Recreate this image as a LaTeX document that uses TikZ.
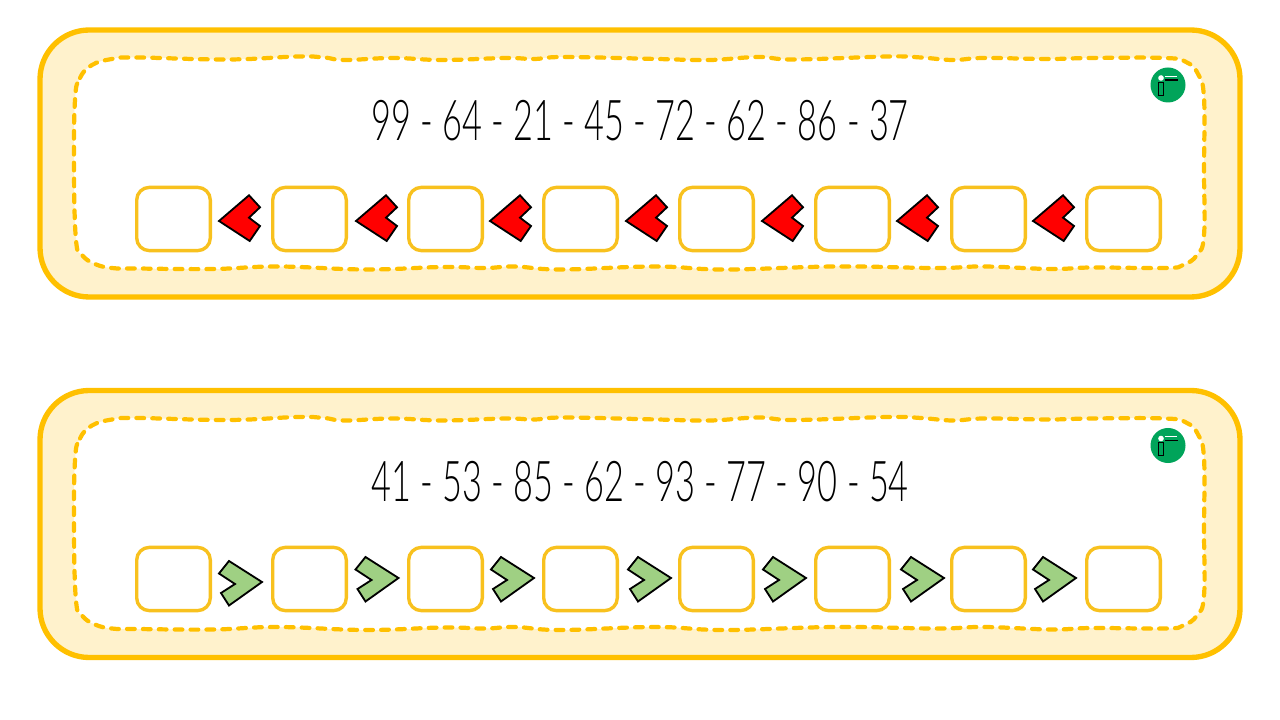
\documentclass[tikz,border=0pt]{standalone}
\usepackage{fontspec}
\setmainfont{Lato Light}[FakeStretch=0.61]
\definecolor{panelline}{HTML}{FFC000}
\definecolor{panelfill}{HTML}{FFF2CC}
\definecolor{boxline}{HTML}{F8C11E}
\definecolor{logogreen}{HTML}{00A45A}
\definecolor{leafgreen}{HTML}{9FD083}
\tikzset{
  panel/.style={draw=panelline, fill=panelfill, line width=3.8pt, rounded corners=35pt},
  seam/.style={draw=panelline, fill=white, line width=3pt, line cap=round,
    dash pattern=on 5.5pt off 5.8pt},
  answerbox/.style={draw=boxline, line width=2.4pt, rounded corners=9pt, fill=white,
    minimum width=1.84cm, minimum height=1.58cm, inner sep=0pt},
  numbers/.style={anchor=base, inner sep=0pt, font=\fontsize{40}{40}\selectfont},
  chevron/.style={draw=black, line width=1.3pt, line join=miter},
}
\begin{document}
\begin{tikzpicture}[x=0.025cm, y=-0.025cm]
    \useasboundingbox (0, 0) rectangle (1280, 720);

    \foreach \r/\dy/\digits in {top/0/{99 - 64 - 21 - 45 - 72 - 62 - 86 - 37}, bot/360.5/{41 - 53 - 85 - 62 - 93 - 77 - 90 - 54}} {
      \begin{scope}[shift={(0, \dy)}]
        % Panel
        \path [panel] (40, 30) rectangle (1240, 297);
        \path [seam] plot [smooth cycle, tension=0.7] coordinates {
          (75,100) (80,78) (92,65) (112,59) (136,57.5) (228,59.5) (297,56.5) (324,57.5)
          (345,60) (393,58) (443,60) (506,58) (534,59) (565,57) (657,59) (710,60)
          (758,57) (795,59.5) (888,56.5) (921,57.5) (953,60) (984,58) (1047,59)
          (1092,58) (1165,58) (1186,62) (1198,74) (1204,98) (1204,170) (1204,235)
          (1197,255) (1183,265) (1165,268) (1092,267.5) (1051,269) (984,266.5)
          (936,268) (836,266.5) (725,269.5) (655,266.5) (561,269.5)
          (515,266.5) (485,268) (443,267) (366,269.5) (278,266.5) (213,269)
          (136,268.5) (112,268) (95,264) (82,255) (76,240) (74,170)
        };

        % Numbers
        \node [numbers] (num\r) at (640, 141) {\digits};

        % Logo
        \node [circle, fill=logogreen, minimum size=0.875cm, inner sep=0pt] (logo\r) at (1168, 85) {};
        \node [circle, fill=white, minimum size=0.14cm, inner sep=0pt] (head\r) at (1161, 78) {};
        \node [draw=black, line width=0.5pt, minimum width=0.11cm, minimum height=0.33cm, inner sep=0pt] (pen\r) at (1161, 88.5) {};
        \draw [white, line width=0.3pt] (1165, 76) -- (1177, 76);
        \draw [black, line width=1pt] (1165, 80) -- (1178, 80);
      \end{scope}
    }

    % Answer boxes
    \foreach \r/\dy in {top/0, bot/360} {
      \foreach \i/\x in {0/173.5, 1/309.5, 2/445.5, 3/580.5, 4/716.5, 5/852.5, 6/988.5, 7/1123.5} {
        \node [answerbox] (box\r\i) at (\x, 219+\dy) {};
      }
    }

    % Red chevrons
    \foreach \x in {219, 356, 490, 626, 762, 897, 1033} {
      \draw [chevron, fill=red, shift={(\x, 221)}]
        (0, 0) -- (30, -25.7) -- (41, -13.7) -- (30, -3.3) -- (41, 5) -- (30.7, 20) -- cycle;
    }

    % Green chevrons
    \foreach \x/\y in {262/582, 398.5/578, 534/578, 671/578, 806/578, 944/578, 1076/578} {
      \draw [chevron, fill=leafgreen, shift={(\x, \y)}]
        (0, 0) -- (-33, -21) -- (-43, -8.5) -- (-27, 2) -- (-41, 11) -- (-33, 23.5) -- cycle;
    }
\end{tikzpicture}
\end{document}
